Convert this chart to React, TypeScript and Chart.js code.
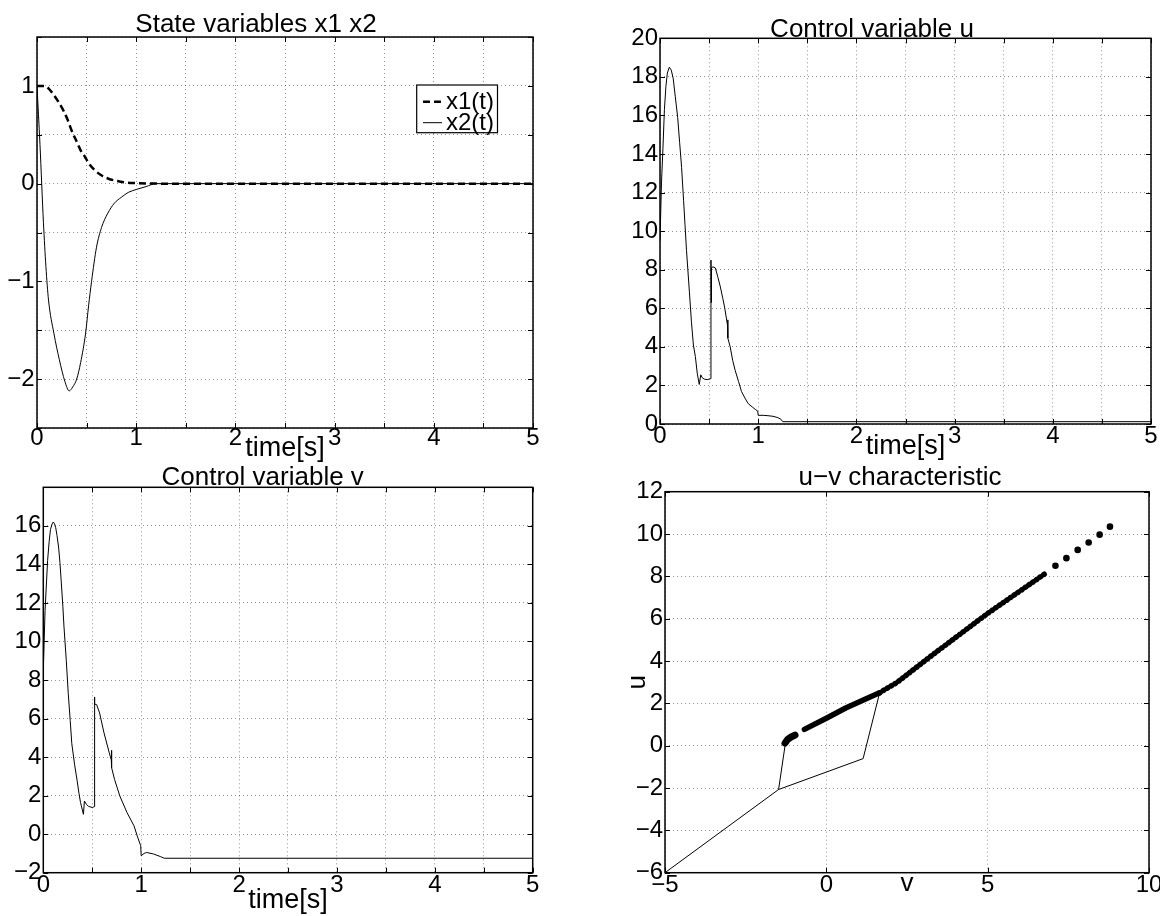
import React, { useEffect, useRef } from 'react';
import { Chart, registerables } from 'chart.js';

Chart.register(...registerables);

const FONT_FAMILY = '"Liberation Sans", Arial, Helvetica, sans-serif';

// ---------------- Panel 1: state variables ----------------
const x1Time = [0, 0.07, 0.12, 0.17, 0.22, 0.27, 0.31, 0.35, 0.4, 0.44, 0.48, 0.52, 0.58, 0.64, 0.72, 0.81, 0.9, 0.98, 1.1, 1.25, 5];
const x1Values = [1, 1.0, 0.97, 0.905, 0.83, 0.74, 0.65, 0.54, 0.43, 0.34, 0.28, 0.21, 0.14, 0.09, 0.05, 0.027, 0.012, 0.006, 0.002, 0, 0];
const x2Time = [0, 0.03, 0.065, 0.09, 0.116, 0.17, 0.225, 0.28, 0.325, 0.36, 0.4, 0.44, 0.49, 0.52, 0.55, 0.6, 0.65, 0.71, 0.78, 0.85, 0.92, 1.0, 1.1, 1.2, 5];
const x2Values = [1, 0.4, -0.4, -0.85, -1.19, -1.53, -1.8, -2.02, -2.12, -2.08, -2.0, -1.83, -1.53, -1.25, -1.0, -0.65, -0.45, -0.31, -0.2, -0.14, -0.09, -0.06, -0.03, 0, 0];
const stateXTicks = [0, 1, 2, 3, 4, 5];
const stateYTicks = [-2, -1, 0, 1];

// ---------------- Panel 2: control variable u ----------------
const uTime = [0, 0.015, 0.03, 0.045, 0.06, 0.075, 0.095, 0.115, 0.135, 0.155, 0.18, 0.2, 0.22, 0.24, 0.255, 0.27, 0.3, 0.32, 0.34, 0.36, 0.38, 0.4, 0.415, 0.43, 0.45, 0.48, 0.517, 0.519, 0.521, 0.524, 0.54, 0.564, 0.59, 0.615, 0.64, 0.66, 0.688, 0.69, 0.692, 0.715, 0.74, 0.765, 0.8, 0.83, 0.87, 0.9, 0.94, 0.975, 0.995, 1.0, 1.05, 1.1, 1.15, 1.2, 1.23, 1.25, 5];
const uValues = [9.5, 12.5, 14.3, 16.3, 17.5, 18.2, 18.5, 18.35, 17.9, 17.0, 15.9, 14.6, 13.3, 11.6, 10.3, 9.0, 6.8, 5.3, 4.1, 3.5, 2.6, 2.05, 2.55, 2.4, 2.33, 2.3, 2.35, 8.5, 6.3, 8.1, 8.15, 8.09, 7.6, 7.1, 6.5, 6.0, 5.1, 5.4, 4.45, 4.0, 3.3, 2.79, 2.2, 1.68, 1.3, 1.05, 0.88, 0.74, 0.67, 0.45, 0.45, 0.43, 0.4, 0.33, 0.25, 0.12, 0.12];
const uYTicks = [0, 2, 4, 6, 8, 10, 12, 14, 16, 18, 20];

// ---------------- Panel 3: control variable v ----------------
const vTime = [0, 0.018, 0.044, 0.06, 0.073, 0.09, 0.102, 0.115, 0.127, 0.14, 0.156, 0.17, 0.182, 0.2, 0.211, 0.235, 0.255, 0.275, 0.291, 0.32, 0.345, 0.365, 0.38, 0.41, 0.42, 0.44, 0.46, 0.5, 0.52, 0.522, 0.524, 0.527, 0.545, 0.575, 0.62, 0.674, 0.695, 0.697, 0.699, 0.728, 0.782, 0.855, 0.927, 0.96, 0.995, 1.0, 1.03, 1.055, 1.127, 1.2, 1.236, 5];
const vValues = [8.5, 11.6, 14.2, 15.2, 15.8, 16.1, 16.2, 16.1, 15.9, 15.5, 14.9, 14.1, 13.2, 11.8, 10.8, 9.0, 7.3, 5.9, 4.7, 3.6, 2.8, 2.1, 1.65, 1.03, 1.72, 1.55, 1.45, 1.38, 1.43, 7.12, 5.08, 6.75, 6.72, 6.29, 5.26, 4.22, 3.85, 4.35, 3.45, 2.84, 1.98, 1.12, 0.43, -0.1, -0.6, -1.12, -1.0, -0.95, -1.03, -1.17, -1.25, -1.25];
const vYTicks = [-2, 0, 2, 4, 6, 8, 10, 12, 14, 16];

// ---------------- Panel 4: u-v characteristic ----------------
const uvThinAV = [-5, -1.48, -1.27];
const uvThinAU = [-6, -2.07, 0.1];
const uvThinBV = [-1.48, 1.14, 1.65];
const uvThinBU = [-2.07, -0.61, 2.49];
const uvBlobV = [-1.28, -1.2, -1.1, -0.97];
const uvBlobU = [0.12, 0.3, 0.4, 0.5];
const uvDenseV = [-0.68, 0, 0.6, 1.2, 1.65];
const uvDenseU = [0.77, 1.3, 1.78, 2.2, 2.5];
const uvDottedV = [1.65, 2.2, 3.3, 5.0, 6.8];
const uvDottedU = [2.5, 3.0, 4.3, 6.25, 8.15];
const uvSparseV = [7.1, 7.44, 7.79, 8.13, 8.47, 8.79];
const uvSparseU = [8.5, 8.86, 9.25, 9.6, 9.97, 10.35];
const uvXTicks = [-5, 0, 5, 10];
const uvYTicks = [-6, -4, -2, 0, 2, 4, 6, 8, 10, 12];

const timeTicks = [0, 1, 2, 3, 4, 5];

function pts(xs: number[], ys: number[]) {
  return xs.map((x, i) => ({ x, y: ys[i] }));
}

function fmt(v: number) {
  return String(v).replace('-', '\u2212');
}

function labelFor(list: number[]) {
  return (value: any) => {
    const v = Number(value);
    const hit = list.find((l) => Math.abs(l - v) < 1e-9);
    return hit === undefined ? '' : fmt(hit);
  };
}

const matlabAxes = {
  id: 'matlabAxes',
  afterDatasetsDraw(chart: any, _args: any, opts: any) {
    const { ctx } = chart;
    const { left, right, top, bottom } = chart.chartArea;
    const xs = chart.scales.x;
    const ys = chart.scales.y;
    const tl = 5;
    ctx.save();
    ctx.strokeStyle = '#000';
    ctx.lineWidth = 1;
    ctx.setLineDash([]);
    ctx.beginPath();
    xs.ticks.forEach((t: any) => {
      const p = Math.round(xs.getPixelForValue(t.value)) + 0.5;
      ctx.moveTo(p, bottom);
      ctx.lineTo(p, bottom - tl);
      ctx.moveTo(p, top);
      ctx.lineTo(p, top + tl);
    });
    ys.ticks.forEach((t: any) => {
      const p = Math.round(ys.getPixelForValue(t.value)) + 0.5;
      ctx.moveTo(left, p);
      ctx.lineTo(left + tl, p);
      ctx.moveTo(right, p);
      ctx.lineTo(right - tl, p);
    });
    ctx.stroke();
    ctx.lineWidth = 1.5;
    ctx.strokeRect(left, top, right - left, bottom - top);

    if (opts.legend) {
      const lg = opts.legend;
      ctx.fillStyle = '#fff';
      ctx.fillRect(lg.x, lg.y, lg.w, lg.h);
      ctx.lineWidth = 1.2;
      ctx.strokeStyle = '#000';
      ctx.strokeRect(lg.x, lg.y, lg.w, lg.h);
      ctx.font = `${lg.size}px ${FONT_FAMILY}`;
      ctx.textBaseline = 'middle';
      ctx.textAlign = 'left';
      ctx.fillStyle = '#000';
      chart.data.datasets.forEach((ds: any, i: number) => {
        const ry = lg.rows[i];
        ctx.save();
        ctx.lineWidth = ds.borderWidth;
        ctx.strokeStyle = ds.borderColor;
        ctx.setLineDash(ds.borderDash || []);
        ctx.beginPath();
        ctx.moveTo(lg.lineX0, ry);
        ctx.lineTo(lg.lineX1, ry);
        ctx.stroke();
        ctx.restore();
        ctx.fillText(ds.label, lg.textX, ry + 1);
      });
    }

    if (opts.title) {
      ctx.font = `${opts.titleSize}px ${FONT_FAMILY}`;
      ctx.fillStyle = '#000';
      ctx.textAlign = 'center';
      ctx.textBaseline = 'alphabetic';
      ctx.fillText(opts.title, opts.titleX, opts.titleY);
    }
    ctx.restore();
  },
};

type AxisSpec = {
  xMin: number; xMax: number; xStep: number; xLabels: number[];
  yMin: number; yMax: number; yStep: number; yLabels: number[];
  leftW: number; bottomH: number; padTop: number; padRight: number;
  xTickPad: number; yTickPad: number;
  xTitle: string; xTitleSize: number; xTitlePadBottom: number;
  yTitle?: string; yTitleSize?: number; yTitlePadTop?: number;
  title: string; titleX: number; titleY: number;
  legend?: any;
};

function makeOptions(s: AxisSpec) {
  const tickFont = { family: FONT_FAMILY, size: 24, lineHeight: 1 };
  const gridColor = 'rgba(0,0,0,0.42)';
  return {
    responsive: false,
    animation: false,
    events: [],
    layout: { padding: { left: 0, top: s.padTop, right: s.padRight, bottom: 0 } },
    plugins: {
      legend: { display: false },
      tooltip: { enabled: false },
      title: { display: false },
      matlabAxes: {
        title: s.title, titleX: s.titleX, titleY: s.titleY, titleSize: 26,
        legend: s.legend,
      },
    },
    scales: {
      x: {
        type: 'linear',
        min: s.xMin, max: s.xMax,
        ticks: {
          stepSize: s.xStep, autoSkip: false, maxRotation: 0, minRotation: 0,
          padding: s.xTickPad, color: '#000', font: tickFont,
          callback: labelFor(s.xLabels),
        },
        grid: { color: gridColor, lineWidth: 1, drawTicks: false },
        border: { display: false, dash: [1, 3] },
        title: {
          display: true, text: s.xTitle, color: '#000',
          font: { family: FONT_FAMILY, size: s.xTitleSize, lineHeight: 1 },
          padding: { top: 0, bottom: s.xTitlePadBottom },
        },
        afterFit: (scale: any) => { scale.height = s.bottomH; },
      },
      y: {
        type: 'linear',
        min: s.yMin, max: s.yMax,
        ticks: {
          stepSize: s.yStep, autoSkip: false,
          padding: s.yTickPad, color: '#000', font: tickFont,
          callback: labelFor(s.yLabels),
        },
        grid: { color: gridColor, lineWidth: 1, drawTicks: false },
        border: { display: false, dash: [1, 3] },
        title: s.yTitle
          ? {
              display: true, text: s.yTitle, color: '#000',
              font: { family: FONT_FAMILY, size: s.yTitleSize, lineHeight: 1 },
              padding: { top: s.yTitlePadTop, bottom: 0 },
            }
          : { display: false },
        afterFit: (scale: any) => { scale.width = s.leftW; },
      },
    },
  };
}

const thin = (label: string, data: any[], extra: any = {}) => ({
  label, data, borderColor: '#000', backgroundColor: '#000', borderWidth: 1,
  pointRadius: 0, fill: false, tension: 0, ...extra,
});

const configs = [
  {
    pos: { left: 0, top: 0, width: 560, height: 470 },
    config: {
      type: 'line',
      data: {
        datasets: [
          thin('x1(t)', pts(x1Time, x1Values), { borderWidth: 2.5, borderDash: [7, 4], cubicInterpolationMode: 'monotone' }),
          thin('x2(t)', pts(x2Time, x2Values), { cubicInterpolationMode: 'monotone' }),
        ],
      },
      options: makeOptions({
        xMin: 0, xMax: 5, xStep: 0.5, xLabels: stateXTicks,
        yMin: -2.5, yMax: 1.5, yStep: 0.5, yLabels: stateYTicks,
        leftW: 37, bottomH: 42, padTop: 37, padRight: 27,
        xTickPad: -2, yTickPad: 2.5,
        xTitle: 'time[s]', xTitleSize: 27, xTitlePadBottom: 7.5,
        title: 'State variables x1 x2', titleX: 256, titleY: 31.7,
        legend: { x: 416.7, y: 85, w: 80.8, h: 47.7, rows: [101.7, 122.7], lineX0: 423, lineX1: 442, textX: 446, size: 24 },
      }),
    },
  },
  {
    pos: { left: 610, top: 0, width: 560, height: 470 },
    config: {
      type: 'line',
      data: { datasets: [thin('u', pts(uTime, uValues))] },
      options: makeOptions({
        xMin: 0, xMax: 5, xStep: 0.5, xLabels: timeTicks,
        yMin: 0, yMax: 20, yStep: 2, yLabels: uYTicks,
        leftW: 50, bottomH: 46, padTop: 38.3, padRight: 19,
        xTickPad: 0.5, yTickPad: 2,
        xTitle: 'time[s]', xTitleSize: 27, xTitlePadBottom: 9.8,
        title: 'Control variable u', titleX: 262, titleY: 36.7,
      }),
    },
  },
  {
    pos: { left: 0, top: 460, width: 560, height: 456 },
    config: {
      type: 'line',
      data: { datasets: [thin('v', pts(vTime, vValues))] },
      options: makeOptions({
        xMin: 0, xMax: 5, xStep: 0.5, xLabels: timeTicks,
        yMin: -2, yMax: 18, yStep: 2, yLabels: vYTicks,
        leftW: 43.3, bottomH: 43.3, padTop: 27.3, padRight: 27.3,
        xTickPad: 1.1, yTickPad: 2,
        xTitle: 'time[s]', xTitleSize: 27, xTitlePadBottom: 1.9,
        title: 'Control variable v', titleX: 262.7, titleY: 25,
      }),
    },
  },
  {
    pos: { left: 610, top: 460, width: 560, height: 456 },
    config: {
      type: 'line',
      data: {
        datasets: [
          thin('uvA', pts(uvThinAV, uvThinAU)),
          thin('uvB', pts(uvThinBV, uvThinBU)),
          thin('uvBlob', pts(uvBlobV, uvBlobU), { borderWidth: 7, borderCapStyle: 'round', borderJoinStyle: 'round' }),
          thin('uvDense', pts(uvDenseV, uvDenseU), { borderWidth: 5.5, borderCapStyle: 'round', borderJoinStyle: 'round' }),
          thin('uvDotted', pts(uvDottedV, uvDottedU), { borderWidth: 5.5, borderDash: [0.5, 4], borderCapStyle: 'round', borderJoinStyle: 'round' }),
          thin('uvSparse', pts(uvSparseV, uvSparseU), { showLine: false, pointRadius: 3.3, pointBorderWidth: 0 }),
        ],
      },
      options: makeOptions({
        xMin: -5, xMax: 10, xStep: 5, xLabels: uvXTicks,
        yMin: -6, yMax: 12, yStep: 2, yLabels: uvYTicks,
        leftW: 55, bottomH: 43.3, padTop: 31.7, padRight: 21,
        xTickPad: 0.6, yTickPad: 2,
        xTitle: 'v', xTitleSize: 26, xTitlePadBottom: 19,
        yTitle: 'u', yTitleSize: 26, yTitlePadTop: 15,
        title: 'u\u2212v characteristic', titleX: 290, titleY: 25,
      }),
    },
  },
];

function Panel({ pos, config }: { pos: any; config: any }) {
  const ref = useRef<HTMLCanvasElement>(null);
  useEffect(() => {
    const chart = new Chart(ref.current as HTMLCanvasElement, { ...config, plugins: [matlabAxes] });
    return () => chart.destroy();
  }, []);
  return (
    <canvas
      ref={ref}
      width={pos.width}
      height={pos.height}
      style={{ position: 'absolute', left: pos.left, top: pos.top, width: pos.width, height: pos.height }}
    />
  );
}

export default function App() {
  return (
    <div style={{ position: 'absolute', left: 0, top: 0, width: 1160, height: 916, overflow: 'hidden', background: '#fff' }}>
      {configs.map((c, i) => (
        <Panel key={i} pos={c.pos} config={c.config} />
      ))}
    </div>
  );
}
